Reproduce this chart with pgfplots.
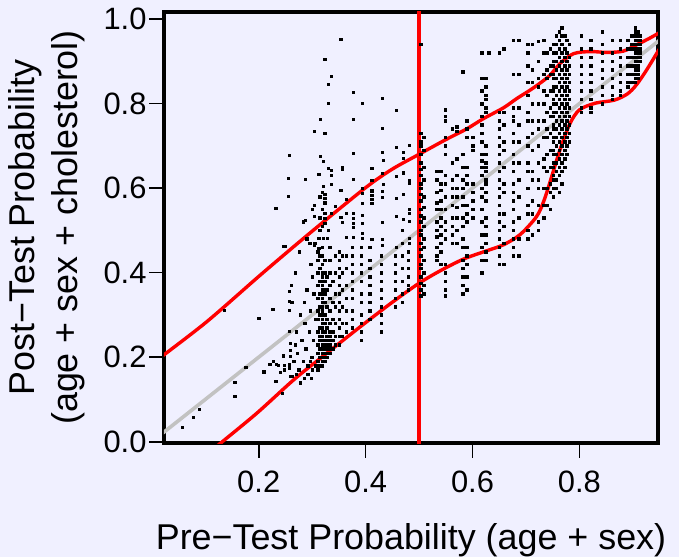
\documentclass[border=0pt]{standalone}
\usepackage{pgfplots}
\pgfplotsset{compat=1.18}
\usepackage{fontspec}
\setmainfont{Liberation Sans}
\definecolor{bg}{RGB}{240,240,255}
\definecolor{refline}{RGB}{194,194,194}
\begin{document}
\begin{tikzpicture}
\fill[bg] (0,0) rectangle (679bp,557bp);
\begin{axis}[
  at={(164bp,114bp)}, anchor=south west,
  scale only axis, width=494bp, height=431bp,
  xmin=0.0228, xmax=0.947, ymin=-0.003, ymax=1.0166,
  xtick={0.2,0.4,0.6,0.8}, xticklabels={0.2,0.4,0.6,0.8},
  ytick={0,0.2,0.4,0.6,0.8,1.0}, yticklabels={0.0,0.2,0.4,0.6,0.8,1.0},
  tick align=outside, xtick pos=bottom, ytick pos=left,
  major tick length=15bp,
  every tick/.style={black, line width=1.6bp},
  axis line style={line width=3.4bp},
  ticklabel style={font=\fontsize{31}{37}\selectfont},
  xticklabel style={yshift=-9bp},
  yticklabel style={xshift=1bp},
  xlabel={Pre−Test Probability (age + sex)},
  xlabel style={font=\fontsize{36}{43}\selectfont, at={(axis description cs:0.5,-0.248)}, anchor=base},
  ylabel={Post−Test Probability\\(age + sex + cholesterol)},
  ylabel style={font=\fontsize{36}{43}\selectfont, align=center, at={(axis description cs:-0.237,0.5)}, anchor=center},
]
% individual patients
\addplot[only marks, mark=square*, mark size=1.25bp, mark options={draw=none, fill=black}] coordinates {
(0.057,0.034) (0.077,0.058) (0.089,0.077) (0.155,0.141) (0.155,0.108) (0.135,0.311) (0.200,0.292) (0.226,0.313)
(0.176,0.176) (0.209,0.166) (0.221,0.183) (0.227,0.190) (0.233,0.183) (0.236,0.181) (0.232,0.143) (0.240,0.164)
(0.246,0.204) (0.248,0.181) (0.248,0.170) (0.257,0.183) (0.257,0.175) (0.259,0.155) (0.257,0.356) (0.257,0.332)
(0.257,0.311) (0.261,0.370) (0.257,0.262) (0.259,0.233) (0.259,0.217) (0.259,0.202) (0.244,0.115) (0.247,0.462)
(0.232,0.552) (0.255,0.581) (0.255,0.623) (0.257,0.678) (0.250,0.462)
(0.353,0.952) (0.323,0.905) (0.336,0.865) (0.330,0.846) (0.377,0.827) (0.330,0.801) (0.394,0.801) (0.431,0.813)
(0.315,0.763) (0.377,0.763) (0.304,0.735) (0.323,0.730) (0.431,0.742) (0.457,0.784) (0.315,0.675) (0.321,0.664)
(0.377,0.683) (0.330,0.647) (0.336,0.642) (0.356,0.649) (0.356,0.645) (0.431,0.685) (0.433,0.666) (0.457,0.697)
(0.470,0.685) (0.470,0.671) (0.482,0.701) (0.312,0.633) (0.336,0.630) (0.287,0.621) (0.377,0.621) (0.411,0.647)
(0.411,0.619) (0.431,0.635) (0.457,0.628) (0.470,0.637) (0.482,0.619) (0.482,0.612) (0.321,0.604) (0.336,0.609)
(0.353,0.595) (0.433,0.609) (0.323,0.585) (0.323,0.576) (0.323,0.566) (0.364,0.574) (0.394,0.600) (0.394,0.588)
(0.394,0.564) (0.411,0.594) (0.411,0.583) (0.411,0.574) (0.411,0.564) (0.431,0.593) (0.431,0.578) (0.470,0.585)
(0.457,0.576) (0.304,0.559) (0.343,0.557) (0.287,0.524) (0.304,0.533) (0.323,0.541) (0.323,0.529) (0.323,0.517)
(0.336,0.541) (0.353,0.531) (0.364,0.541) (0.377,0.541) (0.377,0.529) (0.377,0.517) (0.377,0.507) (0.394,0.536)
(0.394,0.517) (0.431,0.519) (0.457,0.533) (0.470,0.526) (0.482,0.550) (0.482,0.541) (0.482,0.522) (0.330,0.500)
(0.356,0.519) (0.312,0.481) (0.321,0.481) (0.328,0.481) (0.364,0.484) (0.377,0.484) (0.394,0.493) (0.394,0.481)
(0.411,0.479) (0.431,0.479) (0.431,0.465) (0.457,0.460) (0.482,0.481) (0.482,0.470) (0.295,0.470) (0.304,0.465)
(0.312,0.458)
(0.265,0.19) (0.268,0.23) (0.270,0.26) (0.272,0.21) (0.275,0.17) (0.278,0.30) (0.280,0.24) (0.283,0.19)
(0.285,0.33) (0.286,0.28) (0.288,0.22) (0.290,0.36) (0.292,0.18) (0.294,0.26) (0.296,0.31) (0.297,0.42)
(0.299,0.20) (0.300,0.39) (0.302,0.24) (0.303,0.35) (0.305,0.47) (0.306,0.29) (0.307,0.18) (0.283,0.52)
(0.276,0.45) (0.268,0.40) (0.262,0.33) (0.290,0.48) (0.300,0.55) (0.263,0.155) (0.270,0.16) (0.278,0.14)
(0.285,0.15) (0.292,0.16) (0.298,0.15) (0.300,0.17) (0.296,0.19)
(0.310,0.17) (0.310,0.19) (0.310,0.21) (0.310,0.23) (0.310,0.26) (0.310,0.29) (0.310,0.31) (0.310,0.34)
(0.310,0.37) (0.310,0.40) (0.310,0.43) (0.310,0.45)
(0.314,0.18) (0.314,0.20) (0.314,0.22) (0.314,0.24) (0.314,0.25) (0.314,0.27) (0.314,0.30) (0.314,0.32)
(0.314,0.35) (0.314,0.38) (0.314,0.41) (0.314,0.44) (0.314,0.50) (0.314,0.53) (0.314,0.58)
(0.319,0.18) (0.319,0.19) (0.319,0.20) (0.319,0.21) (0.319,0.22) (0.319,0.23) (0.319,0.24) (0.319,0.25)
(0.319,0.26) (0.319,0.27) (0.319,0.28) (0.319,0.29) (0.319,0.30) (0.319,0.31) (0.319,0.32) (0.319,0.33)
(0.319,0.34) (0.319,0.35) (0.319,0.36) (0.319,0.37) (0.319,0.38) (0.319,0.39) (0.319,0.40) (0.319,0.42)
(0.319,0.44) (0.319,0.46) (0.319,0.51) (0.319,0.55) (0.319,0.59)
(0.323,0.19) (0.323,0.20) (0.323,0.21) (0.323,0.22) (0.323,0.23) (0.323,0.24) (0.323,0.26) (0.323,0.28)
(0.323,0.30) (0.323,0.33) (0.323,0.35) (0.323,0.36) (0.323,0.38) (0.323,0.40) (0.323,0.43)
(0.327,0.20) (0.327,0.21) (0.327,0.22) (0.327,0.23) (0.327,0.24) (0.327,0.25) (0.327,0.27) (0.327,0.29)
(0.327,0.32) (0.327,0.36) (0.327,0.39)
(0.333,0.21) (0.333,0.22) (0.333,0.23) (0.333,0.24) (0.333,0.25) (0.333,0.26) (0.333,0.28) (0.333,0.31)
(0.333,0.34) (0.333,0.37) (0.333,0.40) (0.333,0.43) (0.333,0.46)
(0.338,0.22) (0.338,0.24) (0.338,0.26) (0.338,0.29) (0.338,0.33) (0.338,0.38)
(0.343,0.23) (0.343,0.25) (0.343,0.28) (0.343,0.32) (0.343,0.35) (0.343,0.40) (0.343,0.44)
(0.351,0.45) (0.351,0.43) (0.351,0.41) (0.351,0.39) (0.351,0.37) (0.351,0.35) (0.351,0.33) (0.351,0.31)
(0.351,0.29) (0.351,0.27) (0.351,0.25) (0.351,0.23)
(0.356,0.44) (0.356,0.40) (0.356,0.36) (0.356,0.32) (0.356,0.28) (0.356,0.25)
(0.364,0.44) (0.364,0.41) (0.364,0.37) (0.364,0.34) (0.364,0.31) (0.364,0.28) (0.364,0.26)
(0.375,0.46) (0.375,0.44) (0.375,0.42) (0.375,0.40) (0.375,0.38) (0.375,0.36) (0.375,0.34) (0.375,0.31)
(0.375,0.29) (0.375,0.27)
(0.392,0.46) (0.392,0.44) (0.392,0.42) (0.392,0.40) (0.392,0.38) (0.392,0.35) (0.392,0.33) (0.392,0.30)
(0.392,0.28) (0.392,0.26) (0.392,0.24)
(0.408,0.46) (0.408,0.43) (0.408,0.41) (0.408,0.39) (0.408,0.37) (0.408,0.35) (0.408,0.33) (0.408,0.31)
(0.408,0.29)
(0.429,0.44) (0.429,0.42) (0.429,0.40) (0.429,0.38) (0.429,0.36) (0.429,0.34) (0.429,0.32) (0.429,0.30)
(0.429,0.28) (0.429,0.26)
(0.455,0.44) (0.455,0.42) (0.455,0.40) (0.455,0.38) (0.455,0.36) (0.455,0.34) (0.455,0.32)
(0.468,0.50) (0.468,0.47) (0.468,0.44) (0.468,0.41) (0.468,0.38) (0.468,0.35) (0.468,0.33)
(0.480,0.45) (0.480,0.43) (0.480,0.41) (0.480,0.39) (0.480,0.37) (0.480,0.36)
(0.503,0.94) (0.503,0.73) (0.503,0.71) (0.503,0.70) (0.503,0.68) (0.503,0.66) (0.503,0.645) (0.503,0.63)
(0.503,0.61) (0.503,0.60) (0.503,0.585) (0.503,0.57) (0.503,0.55) (0.503,0.535) (0.503,0.52) (0.503,0.50)
(0.503,0.49) (0.503,0.47) (0.503,0.455) (0.503,0.44) (0.503,0.42) (0.503,0.41) (0.503,0.39) (0.503,0.375)
(0.503,0.36) (0.503,0.345)
(0.509,0.72) (0.509,0.69) (0.509,0.65) (0.509,0.62) (0.509,0.58) (0.509,0.555) (0.509,0.53) (0.509,0.51)
(0.509,0.48) (0.509,0.46) (0.509,0.43) (0.509,0.40) (0.509,0.37) (0.509,0.35)
(0.533,0.64) (0.533,0.62) (0.533,0.59) (0.533,0.565) (0.533,0.55) (0.533,0.52) (0.533,0.50) (0.533,0.485)
(0.533,0.46) (0.533,0.44) (0.533,0.43)
(0.540,0.64) (0.540,0.61) (0.540,0.595) (0.540,0.57) (0.540,0.55) (0.540,0.53) (0.540,0.51) (0.540,0.49)
(0.540,0.47) (0.540,0.45) (0.540,0.42)
(0.549,0.785) (0.549,0.77) (0.549,0.76) (0.549,0.72) (0.549,0.70) (0.549,0.68) (0.549,0.63) (0.549,0.61)
(0.549,0.58) (0.549,0.55) (0.549,0.52) (0.549,0.50) (0.549,0.48) (0.549,0.42) (0.549,0.40) (0.549,0.38)
(0.549,0.36) (0.549,0.345)
(0.562,0.74) (0.562,0.66) (0.562,0.62) (0.562,0.60) (0.562,0.58) (0.562,0.56) (0.562,0.53) (0.562,0.51)
(0.562,0.49) (0.562,0.47)
(0.570,0.745) (0.570,0.735) (0.570,0.67) (0.570,0.63) (0.570,0.60) (0.570,0.58) (0.570,0.555) (0.570,0.53)
(0.570,0.50) (0.570,0.47)
(0.582,0.875) (0.582,0.68) (0.582,0.65) (0.582,0.62) (0.582,0.60) (0.582,0.58) (0.582,0.56) (0.582,0.53)
(0.582,0.51) (0.582,0.48) (0.582,0.46) (0.582,0.43) (0.582,0.41) (0.582,0.39) (0.582,0.37) (0.582,0.35)
(0.589,0.76) (0.589,0.74) (0.589,0.72) (0.589,0.65) (0.589,0.63) (0.589,0.61) (0.589,0.56) (0.589,0.54)
(0.589,0.52) (0.589,0.46) (0.589,0.44) (0.589,0.42) (0.589,0.39) (0.589,0.36)
(0.600,0.72) (0.600,0.70) (0.600,0.69) (0.600,0.61) (0.600,0.59) (0.600,0.57) (0.600,0.55) (0.600,0.53)
(0.617,0.92) (0.617,0.86) (0.617,0.83) (0.617,0.80) (0.617,0.77) (0.617,0.75) (0.617,0.73) (0.617,0.71)
(0.617,0.68) (0.617,0.665) (0.617,0.65) (0.617,0.63) (0.617,0.60) (0.617,0.58) (0.617,0.55) (0.617,0.52)
(0.617,0.49) (0.617,0.46) (0.617,0.43) (0.617,0.40)
(0.625,0.86) (0.625,0.84) (0.625,0.82) (0.625,0.81) (0.625,0.79) (0.625,0.78) (0.625,0.70) (0.625,0.68)
(0.625,0.66) (0.625,0.65) (0.625,0.64) (0.625,0.62) (0.625,0.61) (0.625,0.59) (0.625,0.57) (0.625,0.53)
(0.625,0.51) (0.625,0.49) (0.625,0.47) (0.625,0.45) (0.625,0.43) (0.630,0.92)
(0.650,0.92) (0.650,0.78) (0.650,0.76) (0.650,0.74) (0.650,0.72) (0.650,0.70) (0.650,0.68) (0.650,0.66)
(0.650,0.64) (0.650,0.62) (0.650,0.60) (0.650,0.58) (0.650,0.56) (0.650,0.54) (0.650,0.52) (0.650,0.50)
(0.650,0.48) (0.650,0.46) (0.650,0.44) (0.650,0.42)
(0.658,0.93) (0.658,0.78) (0.658,0.75) (0.658,0.71) (0.658,0.69) (0.658,0.65) (0.658,0.61) (0.658,0.59)
(0.658,0.54) (0.658,0.51) (0.658,0.47) (0.658,0.42)
(0.676,0.95) (0.676,0.87) (0.676,0.79) (0.676,0.77) (0.676,0.76) (0.676,0.73) (0.676,0.71) (0.676,0.68)
(0.676,0.66) (0.676,0.64) (0.676,0.61) (0.676,0.59) (0.676,0.57) (0.676,0.55) (0.676,0.52) (0.676,0.50)
(0.676,0.48) (0.676,0.46) (0.676,0.44)
(0.686,0.95) (0.686,0.87) (0.686,0.79) (0.686,0.75) (0.686,0.71) (0.686,0.66) (0.686,0.62) (0.686,0.58)
(0.686,0.53) (0.686,0.48) (0.686,0.44)
(0.703,0.94) (0.703,0.92) (0.703,0.89) (0.703,0.85) (0.703,0.82) (0.703,0.78) (0.703,0.76) (0.703,0.72)
(0.703,0.70) (0.703,0.66) (0.703,0.64) (0.703,0.60) (0.703,0.56) (0.703,0.54) (0.703,0.50) (0.703,0.48)
(0.712,0.94) (0.712,0.88) (0.712,0.85) (0.712,0.80) (0.712,0.76) (0.712,0.73) (0.712,0.69) (0.712,0.64)
(0.712,0.62) (0.712,0.57) (0.712,0.54) (0.712,0.49)
(0.723,0.947) (0.723,0.90) (0.723,0.86) (0.723,0.84) (0.723,0.80) (0.723,0.76) (0.723,0.74) (0.723,0.70)
(0.723,0.66) (0.723,0.62) (0.723,0.60) (0.723,0.56) (0.723,0.52) (0.723,0.50)
(0.733,0.95) (0.733,0.92) (0.733,0.87) (0.733,0.83) (0.733,0.80) (0.733,0.76) (0.733,0.72) (0.733,0.67)
(0.733,0.65) (0.733,0.60) (0.733,0.56) (0.733,0.53)
(0.739,0.92) (0.739,0.88) (0.739,0.86) (0.739,0.82) (0.739,0.78) (0.739,0.74) (0.739,0.72) (0.739,0.68)
(0.739,0.64) (0.739,0.60) (0.739,0.56)
(0.745,0.93) (0.745,0.89) (0.745,0.87) (0.745,0.83) (0.745,0.79) (0.745,0.77) (0.745,0.73) (0.745,0.69)
(0.745,0.65) (0.745,0.61) (0.745,0.59) (0.745,0.55)
(0.751,0.94) (0.751,0.92) (0.751,0.90) (0.751,0.89) (0.751,0.87) (0.751,0.86) (0.751,0.84) (0.751,0.83)
(0.751,0.81) (0.751,0.80) (0.751,0.78) (0.751,0.77) (0.751,0.75) (0.751,0.74) (0.751,0.72) (0.751,0.71)
(0.751,0.69) (0.751,0.68) (0.751,0.66) (0.751,0.65) (0.751,0.63) (0.751,0.62) (0.751,0.60) (0.751,0.58)
(0.757,0.96) (0.757,0.94) (0.757,0.92) (0.757,0.90) (0.757,0.88) (0.757,0.86) (0.757,0.84) (0.757,0.82)
(0.757,0.80) (0.757,0.78) (0.757,0.76) (0.757,0.74) (0.757,0.72) (0.757,0.70) (0.757,0.68) (0.757,0.66)
(0.757,0.64) (0.757,0.62) (0.757,0.60)
(0.762,0.97) (0.762,0.95) (0.762,0.93) (0.762,0.91) (0.762,0.89) (0.762,0.87) (0.762,0.85) (0.762,0.83)
(0.762,0.81) (0.762,0.79) (0.762,0.77) (0.762,0.75) (0.762,0.73) (0.762,0.71) (0.762,0.69) (0.762,0.67)
(0.762,0.65) (0.762,0.63) (0.762,0.59)
(0.767,0.98) (0.767,0.96) (0.767,0.94) (0.767,0.92) (0.767,0.90) (0.767,0.88) (0.767,0.86) (0.767,0.84)
(0.767,0.82) (0.767,0.80) (0.767,0.78) (0.767,0.76) (0.767,0.74) (0.767,0.72) (0.767,0.70) (0.767,0.68)
(0.767,0.66) (0.767,0.64) (0.767,0.61)
(0.772,0.96) (0.772,0.93) (0.772,0.91) (0.772,0.89) (0.772,0.87) (0.772,0.85) (0.772,0.83) (0.772,0.81)
(0.772,0.79) (0.772,0.77) (0.772,0.75) (0.772,0.73) (0.772,0.71) (0.772,0.69) (0.772,0.67) (0.772,0.65)
(0.776,0.95) (0.776,0.92) (0.776,0.90) (0.776,0.88) (0.776,0.86) (0.776,0.84) (0.776,0.82) (0.776,0.80)
(0.776,0.78) (0.776,0.76) (0.776,0.74) (0.776,0.72) (0.776,0.70) (0.776,0.68)
(0.781,0.94) (0.781,0.91) (0.781,0.89) (0.781,0.87) (0.781,0.85) (0.781,0.83) (0.781,0.81) (0.781,0.79)
(0.781,0.77) (0.781,0.75) (0.781,0.73) (0.781,0.71)
(0.803,0.96) (0.803,0.93) (0.803,0.91) (0.803,0.89) (0.803,0.87) (0.803,0.85) (0.803,0.83) (0.803,0.81)
(0.803,0.79) (0.803,0.78)
(0.821,0.95) (0.821,0.93) (0.821,0.91) (0.821,0.89) (0.821,0.87) (0.821,0.85) (0.821,0.83) (0.821,0.81)
(0.821,0.79) (0.821,0.78)
(0.843,0.97) (0.843,0.94) (0.843,0.92) (0.843,0.90) (0.843,0.88) (0.843,0.86) (0.843,0.84) (0.843,0.82)
(0.843,0.80)
(0.861,0.95) (0.861,0.92) (0.861,0.90) (0.861,0.88) (0.861,0.86) (0.861,0.84) (0.861,0.82) (0.861,0.81)
(0.876,0.95) (0.876,0.93) (0.876,0.91) (0.876,0.89) (0.876,0.87) (0.876,0.85) (0.876,0.83) (0.876,0.82)
(0.890,0.95) (0.890,0.93) (0.890,0.91) (0.890,0.89) (0.890,0.87) (0.890,0.85) (0.890,0.84)
(0.898,0.96) (0.898,0.94) (0.898,0.93) (0.898,0.91) (0.898,0.89) (0.898,0.87) (0.898,0.85)
(0.904,0.98) (0.904,0.97) (0.904,0.96) (0.904,0.95) (0.904,0.94) (0.904,0.93) (0.904,0.92) (0.904,0.91)
(0.904,0.90) (0.904,0.89) (0.904,0.88) (0.904,0.87) (0.904,0.86) (0.904,0.85)
(0.910,0.97) (0.910,0.96) (0.910,0.95) (0.910,0.94) (0.910,0.93) (0.910,0.92) (0.910,0.91) (0.910,0.90)
(0.910,0.89) (0.910,0.88) (0.910,0.87) (0.910,0.86)
(0.914,0.96) (0.914,0.95) (0.914,0.94) (0.914,0.93) (0.914,0.92) (0.914,0.91) (0.914,0.90)
};
% identity line
\addplot[refline, line width=3.6bp] coordinates {(0,0) (1,1)};
% threshold
\addplot[red, line width=3.4bp] coordinates {(0.5,-0.1) (0.5,1.1)};
% upper band
\addplot[red, line width=3.4bp, smooth] coordinates {
(0.0,0.184) (0.100,0.281) (0.200,0.391) (0.265,0.461) (0.321,0.520) (0.402,0.603) (0.450,0.645)
(0.500,0.680) (0.549,0.714) (0.589,0.740) (0.620,0.764) (0.658,0.790) (0.683,0.812) (0.708,0.832)
(0.726,0.848) (0.745,0.867) (0.764,0.895) (0.789,0.918) (0.820,0.923) (0.851,0.921) (0.882,0.924)
(0.907,0.939) (0.932,0.955) (0.950,0.968)
};
% lower band
\addplot[red, line width=3.4bp, smooth] coordinates {
(0.100,-0.033) (0.128,-0.004) (0.196,0.067) (0.265,0.146) (0.315,0.197) (0.390,0.272) (0.450,0.330)
(0.500,0.375) (0.539,0.404) (0.583,0.432) (0.627,0.452) (0.658,0.466) (0.689,0.490) (0.720,0.533)
(0.735,0.575) (0.750,0.635) (0.764,0.692) (0.782,0.752) (0.800,0.785) (0.830,0.801) (0.865,0.808)
(0.890,0.823) (0.907,0.845) (0.926,0.880) (0.950,0.930)
};
\end{axis}
\pgfresetboundingbox
\path[use as bounding box] (0,0) rectangle (679bp,557bp);
\end{tikzpicture}
\end{document}
